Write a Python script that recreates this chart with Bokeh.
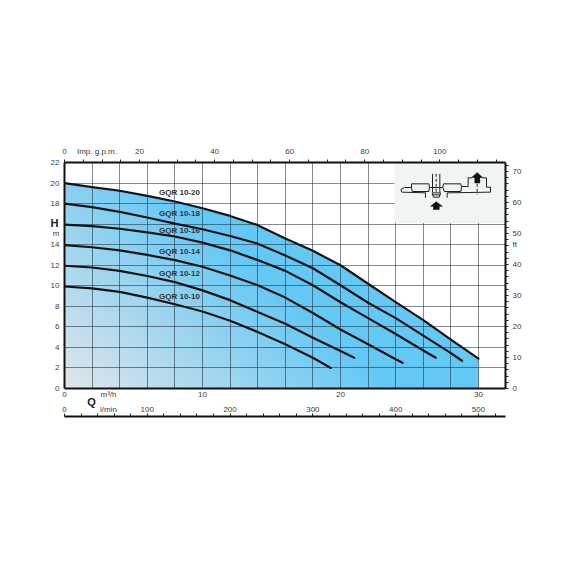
import numpy as np
from bokeh.plotting import figure
from bokeh.models import LinearAxis, Range1d, FixedTicker, Label
from bokeh.embed import file_html
from bokeh.resources import INLINE

# ---- data ----
Q20 = [0, 2, 4, 6, 8, 10, 12, 14, 16, 18, 20, 22, 24, 26, 28, 30]
H20 = [20, 19.6, 19.25, 18.75, 18.2, 17.55, 16.8, 15.9, 14.6, 13.4, 12.0, 10.2, 8.4, 6.65, 4.75, 2.9]
Q18 = [0, 2, 4, 6, 8, 10, 12, 14, 16, 18, 20, 22, 24, 26, 28, 28.8]
H18 = [18, 17.65, 17.2, 16.65, 16.05, 15.5, 14.85, 14.1, 12.95, 11.7, 10.05, 8.35, 6.85, 5.15, 3.45, 2.7]
Q16 = [0, 2, 4, 6, 8, 10, 12, 14, 16, 18, 20, 22, 24, 26, 26.9]
H16 = [15.95, 15.8, 15.55, 15.2, 14.8, 14.2, 13.45, 12.5, 11.45, 10.05, 8.4, 6.85, 5.3, 3.7, 3.0]
Q14 = [0, 2, 4, 6, 8, 10, 12, 14, 16, 18, 20, 22, 24, 24.5]
H14 = [13.95, 13.75, 13.44, 13.0, 12.5, 11.85, 11.0, 10.05, 8.85, 7.35, 5.75, 4.3, 2.85, 2.5]
Q12 = [0, 2, 4, 6, 8, 10, 12, 14, 16, 18, 20, 21]
H12 = [11.95, 11.78, 11.45, 10.95, 10.35, 9.55, 8.6, 7.45, 6.3, 4.95, 3.65, 3.0]
Q10 = [0, 2, 4, 6, 8, 10, 12, 14, 16, 18, 19.3]
H10 = [9.93, 9.75, 9.4, 8.85, 8.2, 7.5, 6.6, 5.5, 4.3, 3.0, 2.0]
curve_names = ["GQR 10-20", "GQR 10-18", "GQR 10-16", "GQR 10-14", "GQR 10-12", "GQR 10-10"]
label_Q = [8.33, 8.33, 8.33, 8.33, 8.33, 8.33]
label_H = [19.1, 17.0, 15.4, 13.3, 11.2, 9.0]
h_ticks = [0, 2, 4, 6, 8, 10, 12, 14, 18, 20, 22]
h_grid = [2, 4, 6, 8, 10, 12, 14, 16, 18, 20]
q_ticks = [0, 10, 20, 30]
q_grid = [2, 4, 6, 8, 10, 12, 14, 16, 18, 20, 22, 24, 26, 28, 30]
gpm_ticks = [0, 20, 40, 60, 80, 100]
lmin_ticks = [0, 100, 200, 300, 400, 500]
ft_ticks = [0, 10, 20, 30, 40, 50, 60, 70]

# ---- page geometry (pixels of the page) ----
L, R, T, B = 64, 505, 162, 388
INK = "#3c3c3c"
FONT = "Liberation Sans"
Q_MAX = (R - L) / 13.8
H_MAX = 22.0
GPM_MAX = 117.5
LMIN_PER_Q = 16.667
FT_MAX = 72.9

p = figure(width=554, height=554, output_backend="svg", toolbar_location=None,
           x_range=Range1d(0, Q_MAX), y_range=Range1d(0, H_MAX),
           min_border_left=L, min_border_right=554 - R,
           min_border_top=T, min_border_bottom=554 - B)
p.outline_line_color = None
p.background_fill_color = "white"
p.extra_x_ranges = {"gpm": Range1d(0, GPM_MAX), "lmin": Range1d(0, Q_MAX * LMIN_PER_Q)}
p.extra_y_ranges = {"ft": Range1d(0, FT_MAX)}


def qx(px):
    return (px - L) / 13.8


def hy(py):
    return (B - py) / (B - T) * H_MAX


# ---- gradient under the top curve ----
nx, ny = 900, 460
qq = (np.arange(nx) + 0.5) / nx * Q_MAX
hh = (np.arange(ny) + 0.5) / ny * H_MAX
QQ, HH = np.meshgrid(qq, hh)
t = np.clip(QQ / 24 + HH / 28, 0, 1)
c0 = np.array([226, 230, 234])
c1 = np.array([100, 200, 245])
top = np.interp(QQ, Q20, H20)
mask = (HH <= top) & (QQ <= 30)
img = np.zeros((ny, nx, 4), dtype=np.uint8)
for k in range(3):
    img[..., k] = (c0[k] + (c1[k] - c0[k]) * t).astype(np.uint8)
img[..., 3] = np.where(mask, 255, 0)
p.image_rgba(image=[img.view(np.uint32).reshape(ny, nx)], x=0, y=0, dw=Q_MAX, dh=H_MAX, level="image")

# ---- grid ----
p.xgrid.ticker = FixedTicker(ticks=q_grid)
p.ygrid.ticker = FixedTicker(ticks=h_grid)
for g in (p.xgrid, p.ygrid):
    g.grid_line_color = "#1c2a33"
    g.grid_line_alpha = 0.55
    g.grid_line_width = 1

# ---- inset ----
p.quad(left=qx(394), right=Q_MAX, bottom=hy(222.5), top=H_MAX, fill_color="#f0f4f4", line_color=None)


def zx(v):
    return qx(380 + np.asarray(v, dtype=float) / 3)


def zy(v):
    return hy(140 + np.asarray(v, dtype=float) / 3)


paths = [
    [(93, 130), (145, 130), (147, 140), (145, 153), (95, 153), (93, 140), (93, 130)],
    [(189, 130), (241, 130), (243, 140), (241, 153), (191, 153), (187, 140), (189, 130)],
    [(93, 141), (72, 141), (61, 147), (64, 155), (135, 157), (135, 172)],
    [(200, 172), (200, 157), (330, 155), (330, 140), (318, 140), (318, 112), (305, 112)],
    [(275, 112), (263, 112), (263, 138), (243, 138)],
    [(147, 141), (187, 141)],
    [(156, 100), (156, 155)],
    [(178, 100), (178, 155)],
    [(155, 157), (180, 157), (176, 170), (159, 170), (155, 157)],
    [(155, 163), (180, 163)],
]
p.multi_line([list(zx([a for a, _ in s])) for s in paths],
             [list(zy([b for _, b in s])) for s in paths],
             line_color="#222222", line_width=1)
p.multi_line([list(zx([167, 167])), list(zx([290, 290]))],
             [list(zy([100, 155])), list(zy([130, 162]))],
             line_color="#222222", line_width=1, line_dash="3 2")
arrows = [
    [(167, 183), (148, 198), (158, 198), (158, 208), (177, 208), (177, 198), (188, 198)],
    [(290, 95), (272, 112), (282, 112), (282, 128), (299, 128), (299, 112), (308, 112)],
]
p.patches([list(zx([a for a, _ in s])) for s in arrows],
          [list(zy([b for _, b in s])) for s in arrows],
          fill_color="#111111", line_color=None)

# ---- curves ----
for q, h in [(Q20, H20), (Q18, H18), (Q16, H16), (Q14, H14), (Q12, H12), (Q10, H10)]:
    p.line(q, h, line_color="#141414", line_width=2.2, line_join="round", line_cap="round")

for name, q, h in zip(curve_names, label_Q, label_H):
    p.add_layout(Label(x=q, y=h, text=name, text_font=FONT, text_font_style="bold", text_font_size="8px",
                       text_color="#333333", text_align="center", text_baseline="middle"))


# ---- axes: unit names are extra tick labels, because a Label is clipped to the frame ----
def no_marks(ax):
    ax.major_tick_in = ax.major_tick_out = ax.minor_tick_in = ax.minor_tick_out = 0


M_TICK = hy(232.5)
left = p.yaxis[0]
left.ticker = FixedTicker(ticks=h_ticks + [M_TICK])
left.major_label_overrides = {M_TICK: "m"}
no_marks(left)
left.major_label_standoff = 5

h_tick = hy(222)
h_ax = LinearAxis(ticker=FixedTicker(ticks=[h_tick]), major_label_overrides={h_tick: "H"})
no_marks(h_ax)
h_ax.axis_line_color = None
h_ax.major_label_standoff = -11
p.add_layout(h_ax, "left")

M3H_TICK = (108 - L) / 13.8
bottom = p.xaxis[0]
bottom.ticker = FixedTicker(ticks=q_ticks + [M3H_TICK])
bottom.major_label_overrides = {M3H_TICK: "m³/h"}
no_marks(bottom)
bottom.major_label_standoff = 1

IMP_TICK = (96.5 - L) / (R - L) * GPM_MAX
top_ax = LinearAxis(x_range_name="gpm",
                    ticker=FixedTicker(ticks=gpm_ticks + [IMP_TICK], minor_ticks=list(range(0, 116, 5))),
                    major_label_overrides={IMP_TICK: "Imp. g.p.m."})
top_ax.major_tick_in = 0
top_ax.major_tick_out = 0
top_ax.minor_tick_in = 0
top_ax.minor_tick_out = 3
top_ax.major_label_standoff = 4
p.add_layout(top_ax, "above")

FT_TICK = (B - 244) / 3.1
right_ax = LinearAxis(y_range_name="ft",
                      ticker=FixedTicker(ticks=ft_ticks + [FT_TICK], minor_ticks=list(range(0, 73, 2))),
                      major_label_overrides={FT_TICK: "ft"})
right_ax.major_tick_in = 0
right_ax.major_tick_out = 0
right_ax.minor_tick_in = 0
right_ax.minor_tick_out = 3
right_ax.major_label_standoff = 4
p.add_layout(right_ax, "right")

LMIN_TICK = (108 - L) / 13.8 * LMIN_PER_Q
lmin_labels = LinearAxis(x_range_name="lmin", ticker=FixedTicker(ticks=lmin_ticks + [LMIN_TICK]),
                         major_label_overrides={LMIN_TICK: "l/min"})
lmin_labels.axis_line_color = None
no_marks(lmin_labels)
lmin_labels.major_label_standoff = 3
p.add_layout(lmin_labels, "below")

lmin_line = LinearAxis(x_range_name="lmin",
                       ticker=FixedTicker(ticks=[], minor_ticks=list(range(0, 531, 20))))
lmin_line.minor_tick_in = 3
lmin_line.minor_tick_out = 0
lmin_line.major_tick_in = 0
lmin_line.major_tick_out = 0
p.add_layout(lmin_line, "below")

Q_TICK = (91 - L) / 13.8
q_ax = LinearAxis(ticker=FixedTicker(ticks=[Q_TICK]), major_label_overrides={Q_TICK: "Q"})
no_marks(q_ax)
q_ax.axis_line_color = None
q_ax.major_label_standoff = -21
p.add_layout(q_ax, "below")

for ax in (left, bottom, top_ax, right_ax, lmin_labels, lmin_line):
    ax.major_label_text_font = FONT
    ax.major_label_text_font_size = "8px"
    ax.major_label_text_color = INK
    ax.major_tick_line_color = "#222222"
    ax.minor_tick_line_color = "#222222"
    if ax is not lmin_labels:
        ax.axis_line_color = "#111111"
        ax.axis_line_width = 2
for ax in (h_ax, q_ax):
    ax.major_label_text_font = FONT
    ax.major_label_text_font_size = "11px"
    ax.major_label_text_font_style = "bold"
    ax.major_label_text_color = "#222222"

open("out.html", "w").write(file_html(p, INLINE))
